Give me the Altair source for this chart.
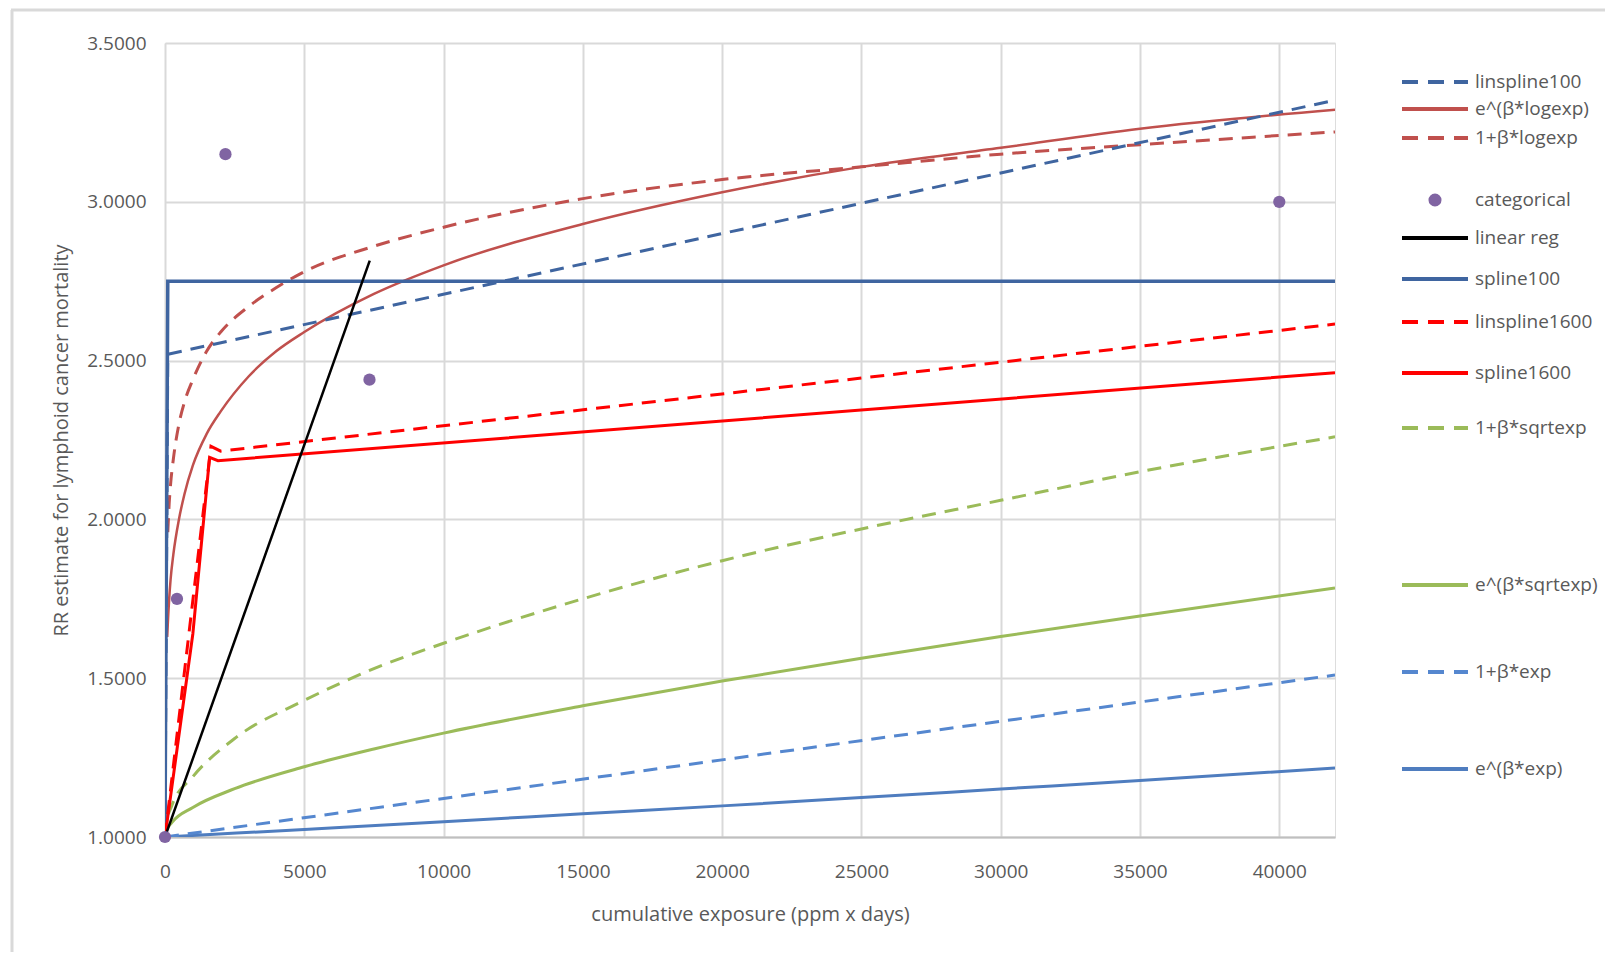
import altair as alt
import pandas as pd

# ---------------- data ----------------
linspline100_x = [0, 100, 42000]
linspline100_y = [1.0, 2.52, 3.32]

spline100_x = [0, 100, 42000]
spline100_y = [1.0, 2.75, 2.75]

e_logexp_x = [80, 100, 150, 200, 300, 500, 700, 1000, 1500, 2000, 3000, 4000,
              5000, 7500, 10000, 15000, 20000, 25000, 30000, 35000, 42000]
e_logexp_y = [1.63, 1.67, 1.75, 1.81, 1.89, 2.00, 2.08, 2.17, 2.27, 2.34, 2.45, 2.53,
              2.59, 2.71, 2.80, 2.93, 3.03, 3.11, 3.17, 3.23, 3.29]

lin_logexp_x = [100, 150, 200, 300, 500, 700, 1000, 1500, 2000, 3000, 4000, 5000,
                7500, 10000, 15000, 20000, 25000, 30000, 35000, 42000]
lin_logexp_y = [1.96, 2.05, 2.11, 2.19, 2.30, 2.37, 2.44, 2.53, 2.59, 2.67, 2.73, 2.78,
                2.86, 2.92, 3.01, 3.07, 3.11, 3.15, 3.18, 3.22]

categorical_x = [0, 430, 2170, 7340, 40000]
categorical_y = [1.0, 1.75, 3.15, 2.44, 3.0]

linreg_x = [0, 7350]
linreg_y = [1.0, 2.815]

linspline1600_x = [0, 1650, 2000, 42000]
linspline1600_y = [1.0, 2.23, 2.215, 2.615]

spline1600_x = [0, 1000, 1600, 1900, 42000]
spline1600_y = [1.0, 1.64, 2.195, 2.185, 2.462]

sqrt_x = [0, 50, 250, 1000, 2500, 5000, 7500, 10000, 15000, 20000, 25000, 30000, 35000, 42000]
lin_sqrt_y = [1.0, 1.043, 1.10, 1.19, 1.31, 1.43, 1.53, 1.61, 1.75, 1.87, 1.97, 2.06, 2.15, 2.26]
e_sqrt_y = [1.0, 1.02, 1.046, 1.093, 1.152, 1.221, 1.277, 1.327, 1.413, 1.491, 1.563, 1.631, 1.696, 1.784]

lin_exp_x = [0, 42000]
lin_exp_y = [1.0, 1.51]

e_exp_x = [0, 5000, 10000, 15000, 20000, 25000, 30000, 35000, 42000]
e_exp_y = [1.0, 1.024, 1.048, 1.073, 1.098, 1.124, 1.151, 1.178, 1.217]

x_ticks = [0, 5000, 10000, 15000, 20000, 25000, 30000, 35000, 40000]
y_ticks = [1.0, 1.5, 2.0, 2.5, 3.0, 3.5]

# ---------------- layout / style ----------------
W, H = 1170, 794
FONT = "Open Sans"
TXT = "#595959"
DASH = [14, 9]

C_DKBLUE = "#3F65A0"
C_BROWN = "#C0504D"
C_PURPLE = "#8064A2"
C_RED = "#FF0000"
C_GREEN = "#9BBB59"
C_BLUE_D = "#5587CF"
C_BLUE = "#4F7DBF"

xscale = alt.Scale(domain=[0, 42000], nice=False, zero=False)
yscale = alt.Scale(domain=[1.0, 3.5], nice=False, zero=False)

xaxis = alt.Axis(values=x_ticks, format="d", title="cumulative exposure (ppm x days)",
                 grid=True, gridColor="#D9D9D9", gridWidth=2,
                 domain=True, domainColor="#BFBFBF", domainWidth=2,
                 ticks=False, tickSize=0, labelPadding=25, labelFontSize=19,
                 labelFlush=False, labelOverlap=False,
                 labelColor=TXT, labelFont=FONT, titleFont=FONT, titleFontSize=20,
                 titleColor=TXT, titleFontWeight="normal", titlePadding=23)
yaxis = alt.Axis(values=y_ticks, format=".4f",
                 title="RR estimate for lymphoid cancer mortality",
                 grid=True, gridColor="#D9D9D9", gridWidth=2, domain=False,
                 ticks=False, tickSize=0, labelPadding=19, labelFontSize=19,
                 labelFlush=False, labelOverlap=False,
                 labelColor=TXT, labelFont=FONT, titleFont=FONT, titleFontSize=20,
                 titleColor=TXT, titleFontWeight="normal", titlePadding=15)


def line_layer(xs, ys, color, width, dash=None, curve=False):
    df = pd.DataFrame({"x": xs, "y": ys})
    kw = dict(color=color, strokeWidth=width, clip=True, strokeCap="butt")
    if dash:
        kw["strokeDash"] = dash
    if curve:
        kw["interpolate"] = "monotone"
    return alt.Chart(df).mark_line(**kw).encode(
        x=alt.X("x:Q", scale=xscale, axis=xaxis),
        y=alt.Y("y:Q", scale=yscale, axis=yaxis),
    )


one = pd.DataFrame({"a": [0]})

# panel frame (left and top edges, as in the reference)
frame_left = alt.Chart(one).mark_rule(color="#D9D9D9", strokeWidth=3).encode(
    x=alt.value(-153), y=alt.value(-33), y2=alt.value(H + 160))
frame_top = alt.Chart(one).mark_rule(color="#D9D9D9", strokeWidth=3).encode(
    x=alt.value(-154), x2=alt.value(W + 500), y=alt.value(-33))

layers = [
    frame_left,
    frame_top,
    line_layer(e_exp_x, e_exp_y, C_BLUE, 3, curve=True),
    line_layer(lin_exp_x, lin_exp_y, C_BLUE_D, 3, DASH),
    line_layer(sqrt_x, e_sqrt_y, C_GREEN, 3, curve=True),
    line_layer(sqrt_x, lin_sqrt_y, C_GREEN, 3, DASH, curve=True),
    line_layer(lin_logexp_x, lin_logexp_y, C_BROWN, 3, DASH, curve=True),
    line_layer(e_logexp_x, e_logexp_y, C_BROWN, 2.5, curve=True),
    line_layer(linspline100_x, linspline100_y, C_DKBLUE, 3, DASH),
    line_layer(spline100_x, spline100_y, C_DKBLUE, 3.5),
    line_layer(linspline1600_x, linspline1600_y, C_RED, 3, DASH),
    line_layer(spline1600_x, spline1600_y, C_RED, 3),
    line_layer(linreg_x, linreg_y, "#000000", 2.5),
    alt.Chart(pd.DataFrame({"x": categorical_x, "y": categorical_y})).mark_circle(
        color=C_PURPLE, opacity=1, size=150, clip=False).encode(
        x=alt.X("x:Q", scale=xscale, axis=xaxis),
        y=alt.Y("y:Q", scale=yscale, axis=yaxis)),
]

# ---------------- custom legend (irregularly spaced, like the reference) ----------------
legend_labels = ["linspline100", "e^(β*logexp)", "1+β*logexp", "categorical", "linear reg",
                 "spline100", "linspline1600", "spline1600", "1+β*sqrtexp",
                 "e^(β*sqrtexp)", "1+β*exp", "e^(β*exp)"]
legend_colors = [C_DKBLUE, C_BROWN, C_BROWN, C_PURPLE, "#000000", C_DKBLUE, C_RED, C_RED,
                 C_GREEN, C_GREEN, C_BLUE_D, C_BLUE]
legend_kind = ["dash", "solid", "dash", "dot", "solid", "solid", "dash", "solid", "dash",
               "solid", "dash", "solid"]
legend_offsets = [39, 66, 95, 157, 195, 236, 279, 330, 385, 542, 629, 726]

LX0, LX1, LTX = 1237, 1303, 1310
for lab, col, kind, yo in zip(legend_labels, legend_colors, legend_kind, legend_offsets):
    if kind == "dot":
        layers.append(alt.Chart(one).mark_circle(color=col, opacity=1, size=170).encode(
            x=alt.value(1270), y=alt.value(yo)))
    else:
        kw = dict(color=col, strokeWidth=4, strokeCap="butt")
        if kind == "dash":
            kw["strokeDash"] = [16, 10]
        layers.append(alt.Chart(one).mark_rule(**kw).encode(
            x=alt.value(LX0), x2=alt.value(LX1), y=alt.value(yo)))
    layers.append(alt.Chart(one).mark_text(
        text=lab, align="left", baseline="middle", font=FONT, fontSize=19, color=TXT).encode(
        x=alt.value(LTX), y=alt.value(yo)))

chart = alt.layer(*layers).properties(
    width=W, height=H,
    padding={"left": 157, "top": 35, "right": 270, "bottom": 115},
    autosize=alt.AutoSizeParams(type="none"),
    background="white",
).configure_view(stroke=None).configure(font=FONT)

chart.save("out.html", embed_options={"renderer": "svg", "actions": False})
